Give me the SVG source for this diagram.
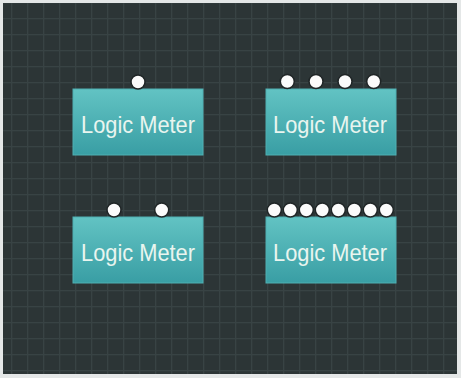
<svg xmlns="http://www.w3.org/2000/svg" width="461" height="378" viewBox="0 0 461 378">
  <defs>
    <pattern id="grid" x="11" y="2" width="16" height="16" patternUnits="userSpaceOnUse">
      <rect width="16" height="16" fill="#2c3536"/>
      <path d="M0 0.5H16M0.5 0V16" stroke="#384344" stroke-width="1.6" fill="none"/>
    </pattern>
    <linearGradient id="boxg" x1="0" y1="0" x2="0" y2="1">
      <stop offset="0" stop-color="#62c3c3"/>
      <stop offset="1" stop-color="#399ea4"/>
    </linearGradient>
  </defs>
  <style>
    .box { fill: url(#boxg); stroke: #4fb0b2; stroke-width: 1; }
    .lbl { font-family: "Liberation Sans", Arial, sans-serif; font-size: 24.5px; fill: #e9f5ef; text-anchor: middle; }
    .port { fill: #fbfbfb; stroke: #1f2526; stroke-width: 1.5; }
  </style>
  <rect x="0" y="0" width="461" height="378" fill="#e4e7e7"/>
  <rect x="3" y="3" width="454" height="371" fill="url(#grid)"/>

  <g id="node1">
    <rect class="box" x="73" y="89" width="130" height="66"/>
    <text class="lbl" x="138" y="133" textLength="114" lengthAdjust="spacingAndGlyphs">Logic Meter</text>
    <circle class="port" cx="138" cy="82" r="7"/>
  </g>

  <g id="node2">
    <rect class="box" x="266" y="89" width="130" height="66"/>
    <text class="lbl" x="330" y="133" textLength="114" lengthAdjust="spacingAndGlyphs">Logic Meter</text>
    <circle class="port" cx="287.3" cy="81.5" r="7"/>
    <circle class="port" cx="316" cy="81.5" r="7"/>
    <circle class="port" cx="345" cy="81.5" r="7"/>
    <circle class="port" cx="373.7" cy="81.5" r="7"/>
  </g>

  <g id="node3">
    <rect class="box" x="73" y="217" width="130" height="66"/>
    <text class="lbl" x="138" y="261" textLength="114" lengthAdjust="spacingAndGlyphs">Logic Meter</text>
    <circle class="port" cx="114" cy="210" r="7"/>
    <circle class="port" cx="161.7" cy="210" r="7"/>
  </g>

  <g id="node4">
    <rect class="box" x="266" y="217" width="130" height="66"/>
    <text class="lbl" x="330" y="261" textLength="114" lengthAdjust="spacingAndGlyphs">Logic Meter</text>
    <circle class="port" cx="274.3" cy="210" r="7"/>
    <circle class="port" cx="290.3" cy="210" r="7"/>
    <circle class="port" cx="306.3" cy="210" r="7"/>
    <circle class="port" cx="322.3" cy="210" r="7"/>
    <circle class="port" cx="338.3" cy="210" r="7"/>
    <circle class="port" cx="354.3" cy="210" r="7"/>
    <circle class="port" cx="370.3" cy="210" r="7"/>
    <circle class="port" cx="386.3" cy="210" r="7"/>
  </g>

  <g id="connectors"></g>
</svg>
